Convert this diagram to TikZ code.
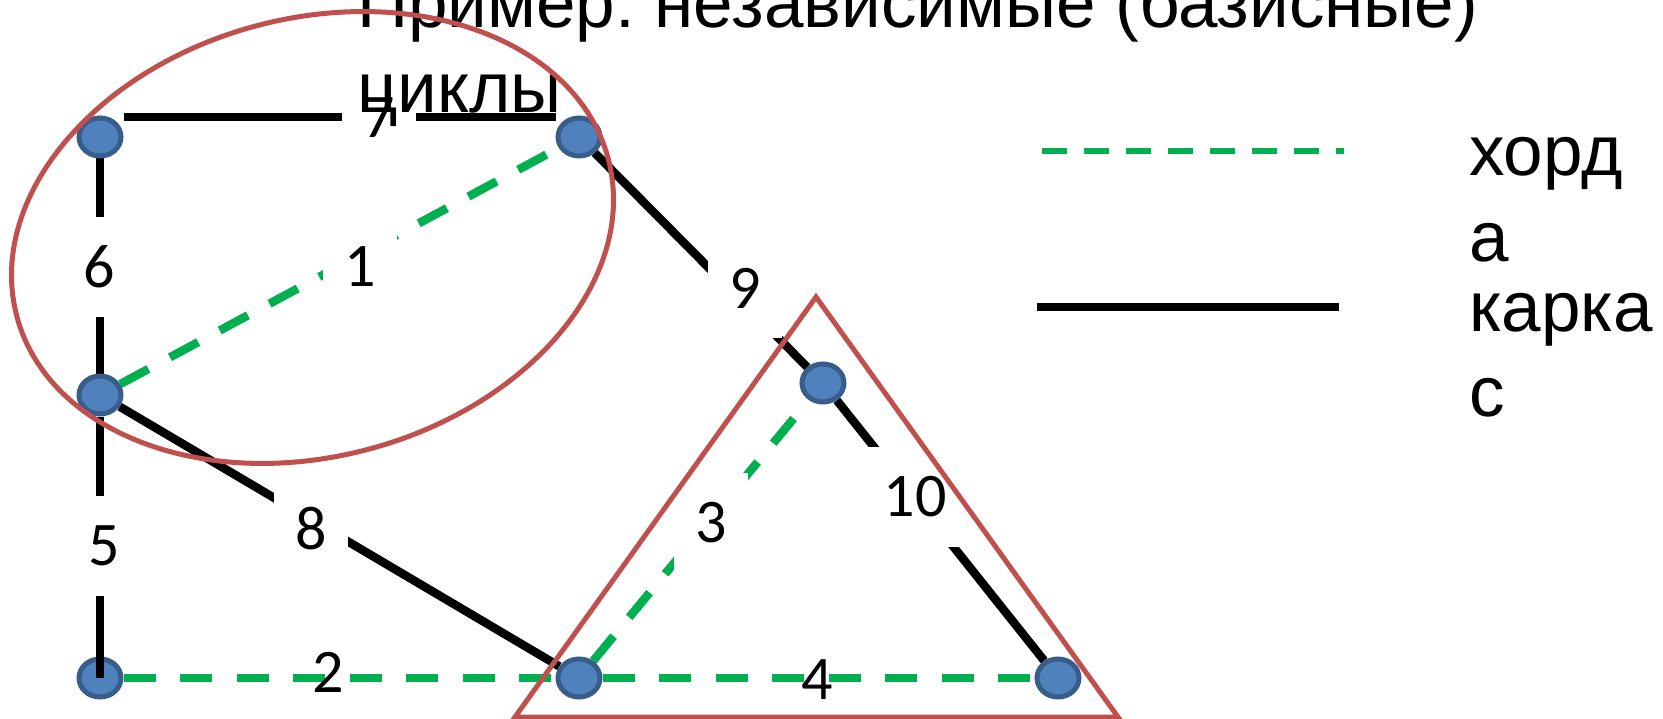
\documentclass[tikz,border=0pt]{standalone}
\usepackage{fontspec}
\newfontfamily\arialf{Liberation Sans}
\newfontfamily\calf{Carlito}
\usetikzlibrary{shapes.geometric}
\pgfdeclarelayer{edgelayer}
\pgfdeclarelayer{frontlayer}
\pgfsetlayers{edgelayer,main,frontlayer}
\definecolor{vfill}{HTML}{4F81BD}
\definecolor{vborder}{HTML}{385D8A}
\definecolor{chordgreen}{HTML}{00B050}
\definecolor{cyclered}{HTML}{C0504D}
\frenchspacing
\begin{document}
\begin{tikzpicture}[x=1pt,y=-1pt,
  vertex/.style={ellipse, fill=vfill, draw=vborder, line width=5pt, minimum width=42pt, minimum height=38pt, inner sep=0pt},
  treeedge/.style={draw=black, line width=8.5pt},
  chord/.style={draw=chordgreen, line width=8.5pt, dash pattern=on 32pt off 24.5pt},
  wlabel/.style={fill=white, inner sep=0pt, inner xsep=21pt, minimum height=100pt, font=\calf\fontsize{62}{74}\selectfont},
  tlabel/.style={inner sep=0pt, font=\calf\fontsize{62}{74}\selectfont},
  cycleshape/.style={draw=cyclered, line width=5pt},
  bigtext/.style={inner sep=0pt, anchor=base west, font=\arialf\fontsize{71}{85}\selectfont},
  legtext/.style={inner sep=0pt, anchor=base west, font=\arialf\fontsize{71}{85}\selectfont},
]
\useasboundingbox (0,0) rectangle (1663,719);

% vertices
\node[vertex] (A) at (100,137) {};
\node[vertex] (B) at (579,137) {};
\node[vertex] (C) at (100,395) {};
\node[vertex] (D) at (100,678) {};
\node[vertex] (E) at (579,678) {};
\node[vertex] (F) at (823,383) {};
\node[vertex] (G) at (1058,678) {};

\begin{pgfonlayer}{edgelayer}
\fill[white] (0,0) rectangle (1663,719);
\draw[treeedge] ([yshift=20pt]A.east) -- ([yshift=20pt]B.west);
\draw[treeedge] (A) -- (C);
\draw[chord] (C) -- (B);
\draw[treeedge] (C) -- (E);
\draw[chord] (D) -- (E);
\draw[treeedge] (B) -- (F);
\draw[chord] (E) -- (F);
\draw[chord] (E) -- (G);
\draw[treeedge] (F) -- (G);
\node[wlabel] (l7) at (379,118) {7};
\node[wlabel] (l6) at (99,267) {6};
\node[wlabel] (l1) at (360,267) {1};
\node[wlabel] (l8) at (311,529) {8};
\node[wlabel] (l9) at (745,288) {9};
\node[wlabel] (l10) at (915,497) {10};
\node[wlabel] (l3) at (711,523) {3};
\node[tlabel] (l2) at (328,672) {2};
\node[tlabel] (l4) at (817,680) {4};
\end{pgfonlayer}

% edge 5 drawn over vertex D
\draw[treeedge] (C) -- (D.center);
\node[wlabel] (l5) at (104,546) {5};

\begin{pgfonlayer}{frontlayer}
\node[bigtext] (title1) at (357,28) {Пример: независимые (базисные)};
\node[bigtext] (title2) at (357,113) {циклы};
\draw[cycleshape, rotate around={15:(312.5,237.5)}] (312.5,237.5) ellipse [x radius=306, y radius=219];
\draw[cycleshape] (816,297) -- (1118,717) -- (515,717) -- cycle;
\end{pgfonlayer}

% legend
\coordinate (g1) at (1042,151);
\coordinate (g2) at (1344,151);
\draw[draw=chordgreen, line width=6.5pt, dash pattern=on 24.5pt off 17.5pt] (g1) -- (g2);
\coordinate (k1) at (1037,307);
\coordinate (k2) at (1339,307);
\draw[draw=black, line width=7.5pt] (k1) -- (k2);
\node[legtext] (t1) at (1469,176) {хорд};
\node[legtext] (t2) at (1469,262) {а};
\node[legtext] (t3) at (1469,331) {карка};
\node[legtext] (t4) at (1469,416) {с};
\end{tikzpicture}
\end{document}
